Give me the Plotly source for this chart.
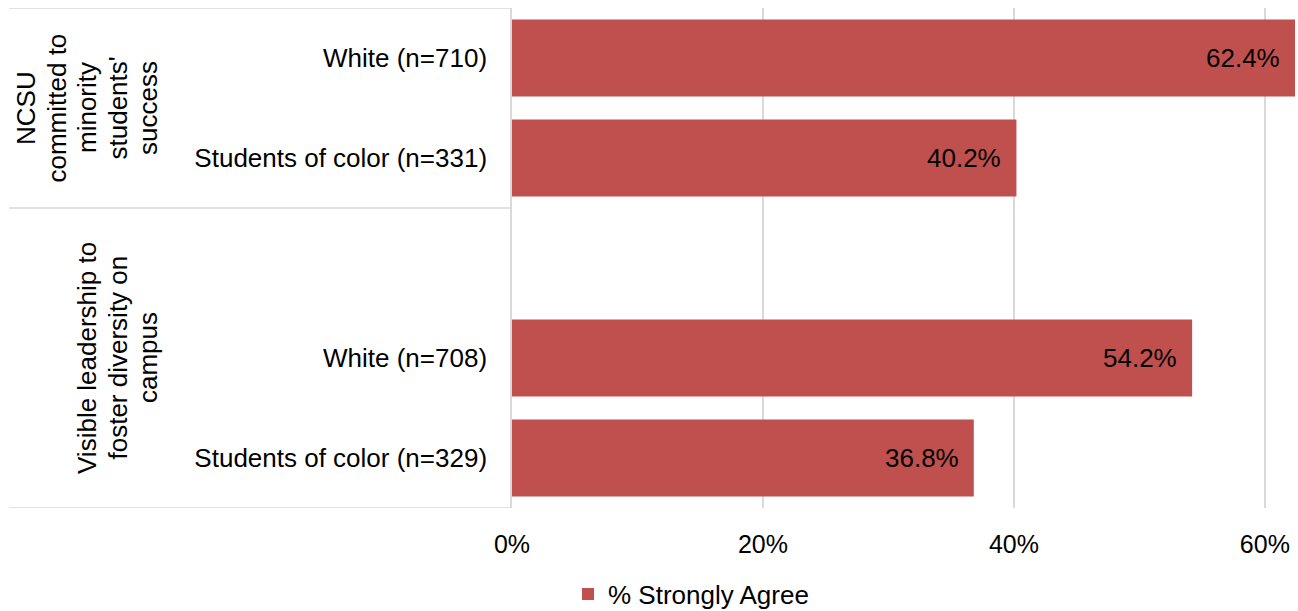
import plotly.graph_objects as go

# ---- data ----
categories = ["White (n=710)", "Students of color (n=331)", " ", "White (n=708)", "Students of color (n=329)"]
strongly_agree = [0.624, 0.402, None, 0.542, 0.368]
group_lines = [["NCSU", "committed to", "minority", "students'", "success"],
               ["Visible leadership to", "foster diversity on", "campus"]]
group_centers = [0.5, 3]
group_bounds = [-0.5, 1.5, 4.5]
series_name = "% Strongly Agree"
x_ticks = [0, 0.2, 0.4, 0.6]

W, H = 1298, 611
L, R, T, B = 512, 3, 8, 103
pw = W - L - R
ph = H - T - B

def px_to_paper_x(px):
    return (px - L) / pw

def px_to_paper_y(py):
    return (H - B - py) / ph

FONT = "Liberation Sans, Arial, sans-serif"
BAR = "#C0504D"
GRID = "#D9D9D9"
FS = 26

fig = go.Figure()
fig.add_trace(go.Bar(
    x=strongly_agree, y=categories, orientation="h",
    marker=dict(color=BAR, line=dict(width=0)),
    width=0.77, name=series_name, showlegend=True,
    hoverinfo="x+y",
))

# data labels (inside end)
for c, v in zip(categories, strongly_agree):
    if v is None:
        continue
    fig.add_annotation(x=v, y=c, xref="x", yref="y", text=f"{v*100:.1f}%",
                       showarrow=False, xanchor="right", yanchor="middle",
                       xshift=-13, font=dict(family=FONT, size=FS, color="#000000"))

# group labels (rotated), one annotation per line, bottom-aligned block
pitch = 30.5
last_center_px = 148
for lines, yc in zip(group_lines, group_centers):
    n = len(lines)
    for i, line in enumerate(lines):
        cx = last_center_px - (n - 1 - i) * pitch
        fig.add_annotation(x=px_to_paper_x(cx), y=yc, xref="paper", yref="y", text=line,
                           showarrow=False, textangle=-90, xanchor="center", yanchor="middle",
                           font=dict(family=FONT, size=FS, color="#000000"))

# group divider lines
for yb in group_bounds:
    fig.add_shape(type="line", xref="paper", yref="y",
                  x0=px_to_paper_x(9), x1=0, y0=yb, y1=yb,
                  line=dict(color=GRID, width=1.5), layer="below")

fig.update_layout(
    width=W, height=H,
    margin=dict(l=L, r=R, t=T, b=B, pad=0, autoexpand=False),
    paper_bgcolor="white", plot_bgcolor="white",
    font=dict(family=FONT, size=FS, color="#000000"),
    bargap=0.23,
    showlegend=True,
    legend=dict(orientation="h", x=px_to_paper_x(568), xanchor="left",
                y=px_to_paper_y(594), yanchor="middle",
                font=dict(family=FONT, size=FS, color="#000000"),
                bgcolor="rgba(0,0,0,0)", borderwidth=0),
    xaxis=dict(range=[0, 0.624], tickvals=x_ticks, tickformat=".0%",
               showgrid=True, gridcolor=GRID, gridwidth=1.5,
               zeroline=False, showline=False, ticks="",
               ticklabelstandoff=19,
               tickfont=dict(family=FONT, size=25, color="#000000"),
               fixedrange=True),
    yaxis=dict(type="category", categoryorder="array", categoryarray=categories,
               range=[4.5, -0.5], showgrid=False, zeroline=False,
               showline=True, linecolor=GRID, linewidth=1.5, ticks="",
               ticklabelstandoff=18,
               tickfont=dict(family=FONT, size=FS, color="#000000"),
               fixedrange=True),
)

fig.write_html("out.html")
